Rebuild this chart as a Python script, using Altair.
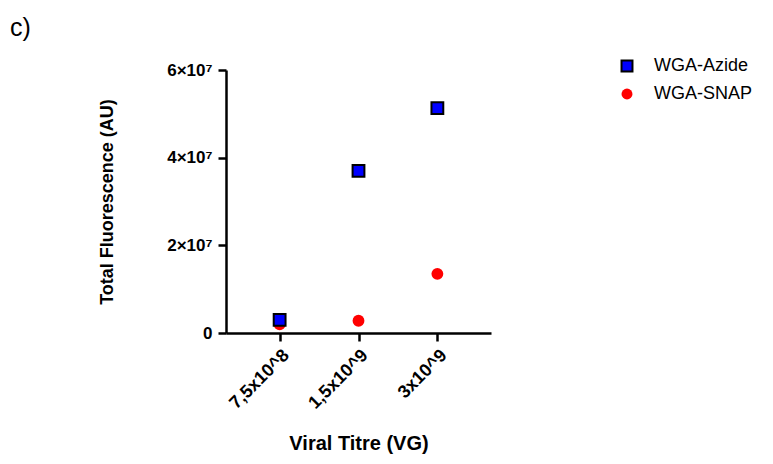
import altair as alt
import pandas as pd

titres = ["7,5x10^8", "1,5x10^9", "3x10^9"]
azide = [3.0e6, 3.70e7, 5.13e7]
snap = [2.0e6, 2.8e6, 1.35e7]
series = ["WGA-Azide", "WGA-SNAP"]
panel_label = ["c)"]

rows = []
for t, v in zip(titres, snap):
    rows.append({"titre": t, "value": v, "series": series[1]})
for t, v in zip(titres, azide):
    rows.append({"titre": t, "value": v, "series": series[0]})
df = pd.DataFrame(rows)

font = "Liberation Sans"

points = alt.Chart(df).mark_point(filled=True, size=140, strokeWidth=2, opacity=1).encode(
    x=alt.X("titre:N", sort=titres, title="Viral Titre (VG)",
            scale=alt.Scale(type="point", padding=0.68),
            axis=alt.Axis(labelAngle=-45, labelAlign="right", labelBaseline="top",
                          labelFontSize=18, labelFontWeight="bold", labelFont=font,
                          labelPadding=5, titleFontSize=20, titleFontWeight="bold",
                          titleFont=font, titlePadding=21)),
    y=alt.Y("value:Q", title="Total Fluorescence (AU)",
            scale=alt.Scale(domain=[0, 6e7], nice=False),
            axis=alt.Axis(values=[0, 2e7, 4e7, 6e7],
                          labelExpr="datum.value == 0 ? '0' : format(datum.value / 1e7, 'd') + '×10⁷'",
                          labelFontSize=17, labelFontWeight="bold", labelFont=font,
                          labelPadding=6, titleFontSize=18, titleFontWeight="bold",
                          titleFont=font, titlePadding=50)),
    color=alt.Color("series:N", title=None,
                    scale=alt.Scale(domain=series, range=["#0000FF", "#FF0000"]),
                    legend=alt.Legend(orient="none", legendX=392, legendY=-13,
                                      labelFontSize=18, labelFont=font, symbolSize=120,
                                      labelOffset=18, rowPadding=8, symbolStrokeWidth=2,
                                      labelColor="#000000")),
    shape=alt.Shape("series:N", title=None,
                    scale=alt.Scale(domain=series, range=["square", "circle"])),
    stroke=alt.Stroke("series:N", title=None,
                      scale=alt.Scale(domain=series, range=["#000000", "transparent"])),
    order=alt.Order("series:N", sort="descending"),
)

label = alt.Chart(pd.DataFrame({"t": panel_label})).mark_text(
    align="left", baseline="middle", fontSize=25, font=font, color="#000000"
).encode(text="t:N", x=alt.value(-216), y=alt.value(-42))

chart = alt.layer(points, label).properties(
    width=265, height=263,
    autosize=alt.AutoSizeParams(type="none"),
    padding={"left": 218, "top": 62, "right": 270, "bottom": 123},
    background="white",
).configure_view(stroke=None).configure_axis(
    grid=False, domainColor="#000000", domainWidth=2.5, tickColor="#000000",
    tickWidth=2.5, tickSize=8, labelColor="#000000", titleColor="#000000",
)

chart.save("out.html", embed_options={"renderer": "svg", "actions": False})
